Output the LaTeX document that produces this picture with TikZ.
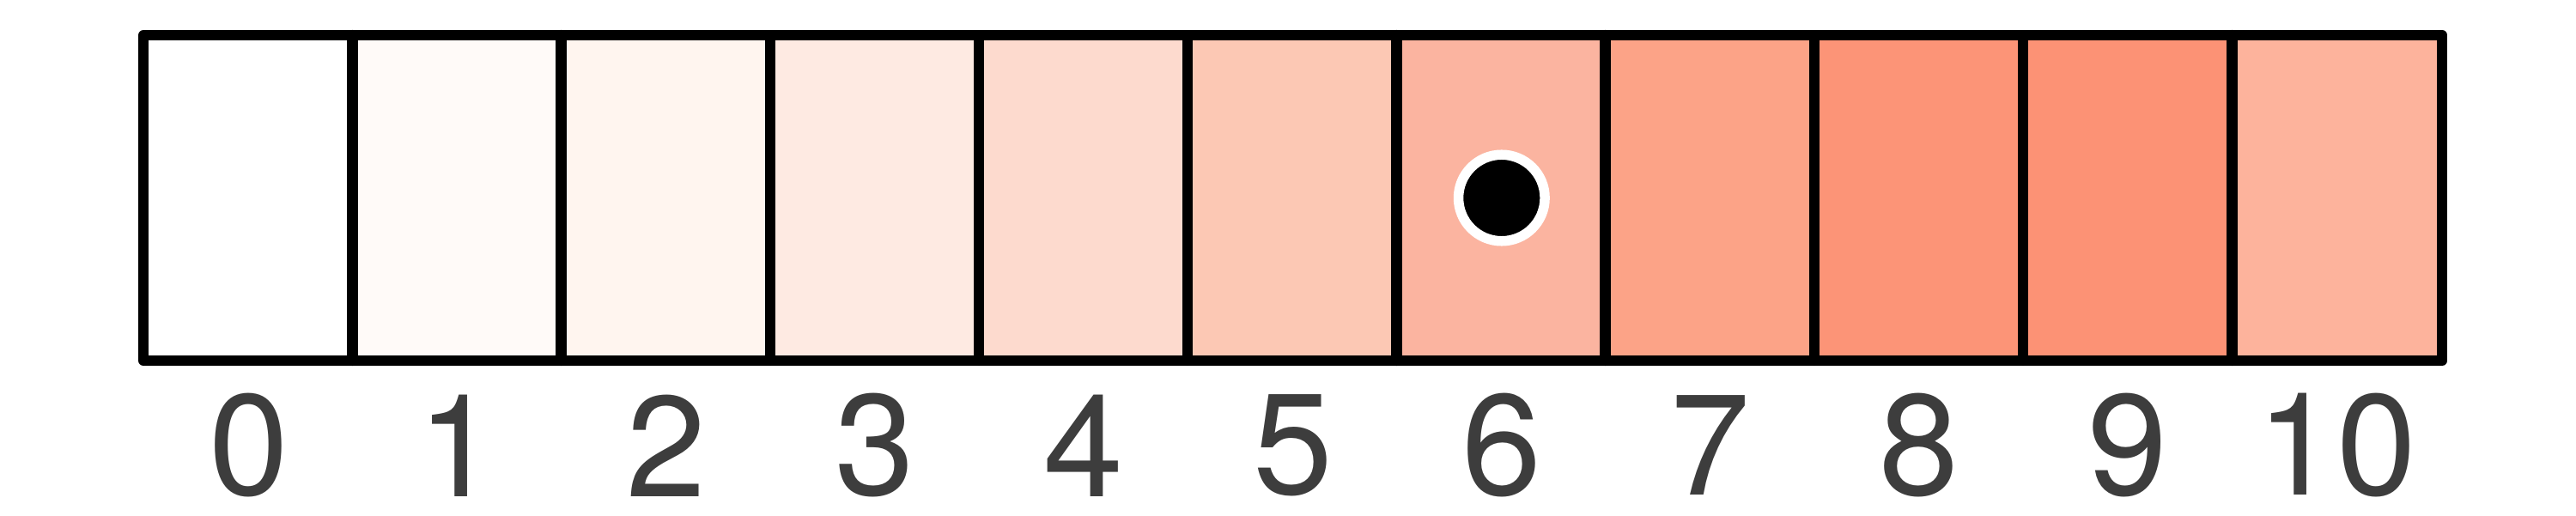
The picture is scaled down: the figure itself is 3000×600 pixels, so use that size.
\documentclass[tikz,border=0pt]{standalone}
\usepackage{fontspec}
\setmainfont{TeX Gyre Heros}
\definecolor{cz}{HTML}{FFFFFF}
\definecolor{ca}{HTML}{FFFAF8}
\definecolor{cb}{HTML}{FFF5EF}
\definecolor{cc}{HTML}{FEEAE2}
\definecolor{cd}{HTML}{FDDACE}
\definecolor{ce}{HTML}{FCC8B4}
\definecolor{cf}{HTML}{FBB4A0}
\definecolor{cg}{HTML}{FCA387}
\definecolor{ch}{HTML}{FC9477}
\definecolor{ci}{HTML}{FC9275}
\definecolor{cj}{HTML}{FDB39C}
\definecolor{labelgray}{HTML}{3D3D3D}
\tikzset{
  cellbox/.style={inner sep=0pt, minimum width=2.432cm, minimum height=3.77cm, anchor=center},
  gridline/.style={line width=0.125cm, black, line join=round, line cap=round},
  numlabel/.style={text=labelgray, font=\fontsize{47.5}{50}\selectfont, inner sep=0pt, anchor=center},
}
\begin{document}
\begin{tikzpicture}[x=0.01cm,y=0.01cm]
\useasboundingbox (0,0) rectangle (3000,600);
\fill[white] (0,0) rectangle (3000,600);
\foreach \i/\c in {0/cz,1/ca,2/cb,3/cc,4/cd,5/ce,6/cf,7/cg,8/ch,9/ci,10/cj}{
  \node[cellbox, fill=\c] (cell\i) at ({168+243.2*(\i+0.5)},369.5) {};
  \node[numlabel] (lab\i) at ({168+243.2*(\i+0.5)},81) {\i};
}
\draw[gridline] (cell0.north west) rectangle (cell10.south east);
\foreach \i in {1,...,10}{
  \draw[gridline] (cell\i.north west) -- (cell\i.south west);
}
\node[circle, fill=black, draw=white, line width=0.115cm, minimum size=1.005cm, inner sep=0pt] (marker) at (cell6.center) {};
\end{tikzpicture}
\end{document}
